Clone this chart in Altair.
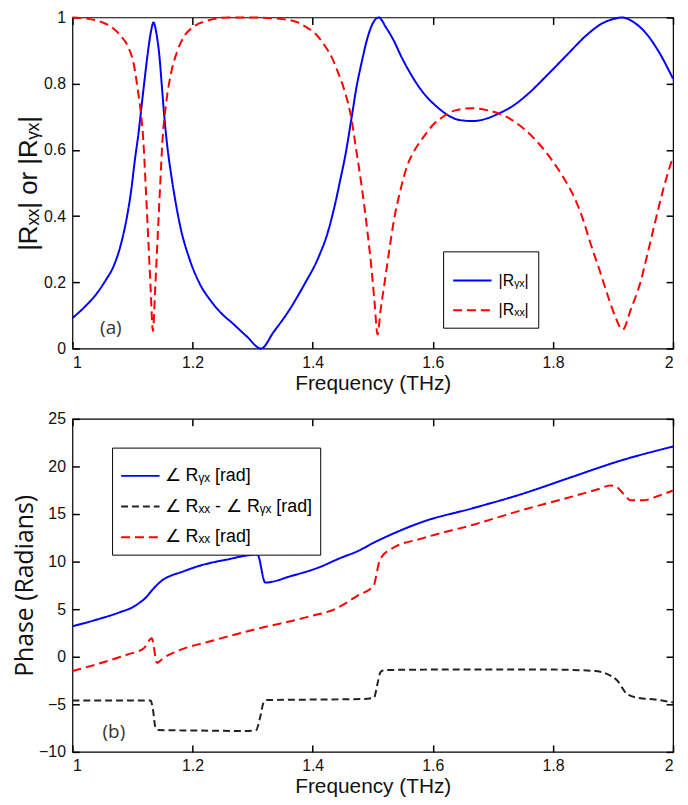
import altair as alt
import pandas as pd

# ---------------- data ----------------
ryx_f = [1.000, 1.020, 1.040, 1.055, 1.070, 1.080, 1.090, 1.098, 1.104, 1.110, 1.115, 1.120, 1.126, 1.131,
         1.135, 1.140, 1.145, 1.149, 1.153, 1.158, 1.164, 1.171, 1.180, 1.195, 1.213, 1.230, 1.246, 1.268,
         1.290, 1.314, 1.335, 1.361, 1.385, 1.410, 1.425, 1.437, 1.446, 1.454, 1.465, 1.473, 1.481, 1.490,
         1.497, 1.510, 1.522, 1.535, 1.548, 1.563, 1.577, 1.590, 1.607, 1.625, 1.645, 1.667, 1.690, 1.710,
         1.735, 1.759, 1.790, 1.825, 1.855, 1.880, 1.900, 1.915, 1.935, 1.956, 1.975, 2.000]
ryx_mag = [0.092, 0.125, 0.165, 0.205, 0.255, 0.310, 0.390, 0.480, 0.570, 0.650, 0.730, 0.810, 0.900, 0.960,
           0.985, 0.950, 0.880, 0.790, 0.700, 0.610, 0.530, 0.450, 0.365, 0.270, 0.192, 0.145, 0.110, 0.074,
           0.037, 0.000, 0.050, 0.116, 0.190, 0.277, 0.350, 0.434, 0.510, 0.580, 0.700, 0.790, 0.860, 0.930,
           0.970, 1.000, 0.970, 0.930, 0.880, 0.830, 0.790, 0.760, 0.730, 0.705, 0.690, 0.687, 0.695, 0.710,
           0.735, 0.770, 0.825, 0.890, 0.945, 0.980, 0.995, 1.000, 0.985, 0.950, 0.900, 0.815]

rxx_f = [1.000, 1.030, 1.050, 1.066, 1.080, 1.093, 1.102, 1.109, 1.114, 1.118, 1.122, 1.126, 1.130, 1.134,
         1.138, 1.142, 1.146, 1.150, 1.156, 1.164, 1.174, 1.185, 1.200, 1.224, 1.260, 1.300, 1.350, 1.375,
         1.390, 1.405, 1.420, 1.433, 1.443, 1.452, 1.459, 1.465, 1.470, 1.480, 1.486, 1.492, 1.498, 1.503,
         1.508, 1.513, 1.519, 1.527, 1.535, 1.545, 1.557, 1.570, 1.585, 1.600, 1.617, 1.639, 1.667, 1.690,
         1.710, 1.732, 1.754, 1.776, 1.798, 1.818, 1.836, 1.850, 1.863, 1.877, 1.890, 1.903, 1.916, 1.930,
         1.945, 1.958, 1.972, 1.985, 2.000]
rxx_mag = [1.000, 0.995, 0.985, 0.970, 0.945, 0.910, 0.860, 0.780, 0.710, 0.630, 0.490, 0.340, 0.190, 0.053,
           0.190, 0.340, 0.490, 0.630, 0.740, 0.830, 0.895, 0.940, 0.970, 0.990, 1.000, 1.000, 0.995, 0.985,
           0.970, 0.950, 0.915, 0.875, 0.830, 0.785, 0.740, 0.690, 0.630, 0.510, 0.430, 0.340, 0.240, 0.140,
           0.042, 0.115, 0.190, 0.290, 0.385, 0.470, 0.550, 0.600, 0.640, 0.675, 0.700, 0.720, 0.726, 0.720,
           0.710, 0.690, 0.660, 0.620, 0.570, 0.515, 0.455, 0.390, 0.315, 0.240, 0.167, 0.100, 0.057, 0.120,
           0.196, 0.290, 0.396, 0.490, 0.580]

pyx_f = [1.000, 1.037, 1.080, 1.100, 1.113, 1.122, 1.130, 1.140, 1.152, 1.165, 1.179, 1.212, 1.256, 1.308,
         1.321, 1.365, 1.409, 1.447, 1.475, 1.502, 1.529, 1.584, 1.666, 1.748, 1.830, 1.912, 2.000]
pyx_val = [3.2, 3.84, 4.7, 5.2, 5.74, 6.2, 6.8, 7.5, 8.15, 8.55, 8.85, 9.57, 10.2, 10.74,
           7.8, 8.5, 9.36, 10.4, 11.1, 12.0, 12.8, 14.2, 15.6, 17.1, 18.86, 20.6, 22.1]

pxx_f = [1.000, 1.048, 1.091, 1.119, 1.132, 1.141, 1.150, 1.173, 1.228, 1.310, 1.392, 1.440, 1.458, 1.475,
         1.499, 1.502, 1.506, 1.510, 1.515, 1.529, 1.584, 1.666, 1.748, 1.830, 1.875, 1.896, 1.905, 1.912,
         1.922, 1.929, 1.950, 1.975, 2.000]
pxx_val = [-1.5, -0.65, 0.22, 0.9, 1.94, -0.65, -0.2, 0.56, 1.6, 2.97, 4.19, 5.1, 5.74, 6.43,
           7.3, 7.5, 8.6, 9.8, 10.5, 11.26, 12.47, 13.85, 15.4, 16.8, 17.6, 18.0, 17.9, 17.5,
           16.8, 16.44, 16.44, 16.9, 17.47]

pdiff_f = [1.000, 1.130, 1.134, 1.138, 1.142, 1.200, 1.288, 1.306, 1.312, 1.319, 1.324, 1.400, 1.480, 1.502,
           1.508, 1.513, 1.520, 1.600, 1.800, 1.870, 1.890, 1.907, 1.923, 1.940, 1.970, 2.000]
pdiff_val = [-4.6, -4.6, -5.5, -7.38, -7.7, -7.75, -7.8, -7.7, -6.5, -4.7, -4.55, -4.5, -4.45, -4.3,
             -2.8, -1.6, -1.4, -1.35, -1.35, -1.5, -1.8, -2.5, -3.9, -4.3, -4.5, -4.8]

x_ticks = [1.0, 1.2, 1.4, 1.6, 1.8, 2.0]
top_y_ticks = [0, 0.2, 0.4, 0.6, 0.8, 1.0]
bot_y_ticks = [-10, -5, 0, 5, 10, 15, 20, 25]

top_names = ["|Rᵧₓ|", "|Rₓₓ|"]
bot_names = ["∠ Rᵧₓ [rad]", "∠ Rₓₓ - ∠ Rᵧₓ [rad]", "∠ Rₓₓ [rad]"]

# ---------------- styling ----------------
W = 606
H1 = 334
H2 = 336
TICK = 7
TCOL = "#000000"
TW = 1.5
FONT = "Liberation Sans"

xscale = alt.Scale(domain=[1, 2], nice=False, zero=False)


def main_x():
    return alt.Axis(values=x_ticks, format="~g", title="Frequency (THz)", orient="bottom",
                    ticks=True, tickSize=TICK, tickWidth=TW, tickColor=TCOL,
                    offset=-TICK, labelPadding=6, titlePadding=2, titleFontSize=21)


def mirror_x():
    return alt.Axis(values=x_ticks, orient="top", labels=False, title=None,
                    ticks=True, tickSize=TICK, tickWidth=TW, tickColor=TCOL, offset=-TICK)


def main_y(vals, title, tfont, tsize, tpad):
    return alt.Axis(values=vals, format="~g", title=title, orient="left", ticks=True,
                    tickSize=TICK, tickWidth=TW, tickColor=TCOL,
                    offset=-TICK, labelPadding=7, titlePadding=tpad,
                    titleFont=tfont, titleFontSize=tsize)


def mirror_y(vals):
    return alt.Axis(values=vals, orient="right", labels=False, title=None,
                    ticks=True, tickSize=TICK, tickWidth=TW, tickColor=TCOL, offset=-TICK)


# ---------------- top panel ----------------
top_df = pd.concat([
    pd.DataFrame({"f": ryx_f, "v": ryx_mag, "s": top_names[0]}),
    pd.DataFrame({"f": rxx_f, "v": rxx_mag, "s": top_names[1]}),
])
yscale1 = alt.Scale(domain=[0, 1], nice=False)

top_lines = alt.Chart(top_df).mark_line(strokeWidth=2, interpolate="monotone").encode(
    x=alt.X("f:Q", scale=xscale, axis=main_x()),
    y=alt.Y("v:Q", scale=yscale1, axis=main_y(top_y_ticks, "|Rₓₓ| or |Rᵧₓ|", FONT, 26, 2)),
    color=alt.Color("s:N", scale=alt.Scale(domain=top_names, range=["#0000ff", "#ff0000"]),
                    legend=alt.Legend(title=None, orient="none", legendX=374, legendY=236,
                                      strokeColor="black", fillColor="white", padding=9,
                                      labelFontSize=16, labelFont=FONT, symbolType="stroke",
                                      symbolStrokeWidth=2, symbolSize=1500, rowPadding=1,
                                      labelOffset=6)),
    strokeDash=alt.StrokeDash("s:N", scale=alt.Scale(domain=top_names, range=[[1, 0], [9, 5]]),
                              legend=None),
)

top_mirror = alt.Chart(top_df).mark_line(opacity=0).encode(
    x=alt.X("f:Q", scale=xscale, axis=mirror_x()),
    y=alt.Y("v:Q", scale=yscale1, axis=mirror_y(top_y_ticks)),
)

a_lab = alt.Chart(pd.DataFrame({"f": [1.064], "v": [0.062], "t": ["(a)"]})).mark_text(
    font="Open Sans", fontSize=19, color="#333333").encode(
    x=alt.X("f:Q", scale=xscale, axis=None), y=alt.Y("v:Q", scale=yscale1, axis=None), text="t:N")

top = alt.layer(top_lines, top_mirror, a_lab).resolve_axis(
    x="independent", y="independent").properties(width=W, height=H1)

# ---------------- bottom panel ----------------
bot_df = pd.concat([
    pd.DataFrame({"f": pyx_f, "v": pyx_val, "s": bot_names[0]}),
    pd.DataFrame({"f": pdiff_f, "v": pdiff_val, "s": bot_names[1]}),
    pd.DataFrame({"f": pxx_f, "v": pxx_val, "s": bot_names[2]}),
])
yscale2 = alt.Scale(domain=[-10, 25], nice=False)

bot_lines = alt.Chart(bot_df).mark_line(strokeWidth=2, interpolate="monotone").encode(
    x=alt.X("f:Q", scale=xscale, axis=main_x()),
    y=alt.Y("v:Q", scale=yscale2, axis=main_y(bot_y_ticks, "Phase (Radians)", "Open Sans", 25, 1)),
    color=alt.Color("s:N", scale=alt.Scale(domain=bot_names, range=["#0000ff", "#222222", "#ff0000"]),
                    legend=alt.Legend(title=None, orient="none", legendX=40, legendY=29,
                                      strokeColor="black", fillColor="white", padding=8,
                                      labelFontSize=18, labelFont=FONT, symbolType="stroke",
                                      symbolStrokeWidth=2, symbolSize=1500, rowPadding=1,
                                      labelOffset=4)),
    strokeDash=alt.StrokeDash("s:N", scale=alt.Scale(domain=bot_names,
                                                     range=[[1, 0], [7, 4], [9, 5]])),
)

bot_mirror = alt.Chart(bot_df).mark_line(opacity=0).encode(
    x=alt.X("f:Q", scale=xscale, axis=mirror_x()),
    y=alt.Y("v:Q", scale=yscale2, axis=mirror_y(bot_y_ticks)),
)

b_lab = alt.Chart(pd.DataFrame({"f": [1.069], "v": [-7.9], "t": ["(b)"]})).mark_text(
    font="Open Sans", fontSize=19, color="#333333").encode(
    x=alt.X("f:Q", scale=xscale, axis=None), y=alt.Y("v:Q", scale=yscale2, axis=None), text="t:N")

bottom = alt.layer(bot_lines, bot_mirror, b_lab).resolve_axis(
    x="independent", y="independent").properties(width=W, height=H2)

chart = alt.vconcat(top, bottom, spacing=16).resolve_scale(
    color="independent", strokeDash="independent"
).properties(
    padding={"left": 4, "top": -3, "right": 2, "bottom": 2},
    background="white"
).configure_view(
    stroke="black", strokeWidth=1.2
).configure_axis(
    domain=False, grid=False,
    labelFont=FONT, labelFontSize=16, labelColor="#111111",
    titleFont=FONT, titleFontWeight="normal", titleColor="#111111"
)

chart.save("out.html", embed_options={"renderer": "svg", "actions": False})
